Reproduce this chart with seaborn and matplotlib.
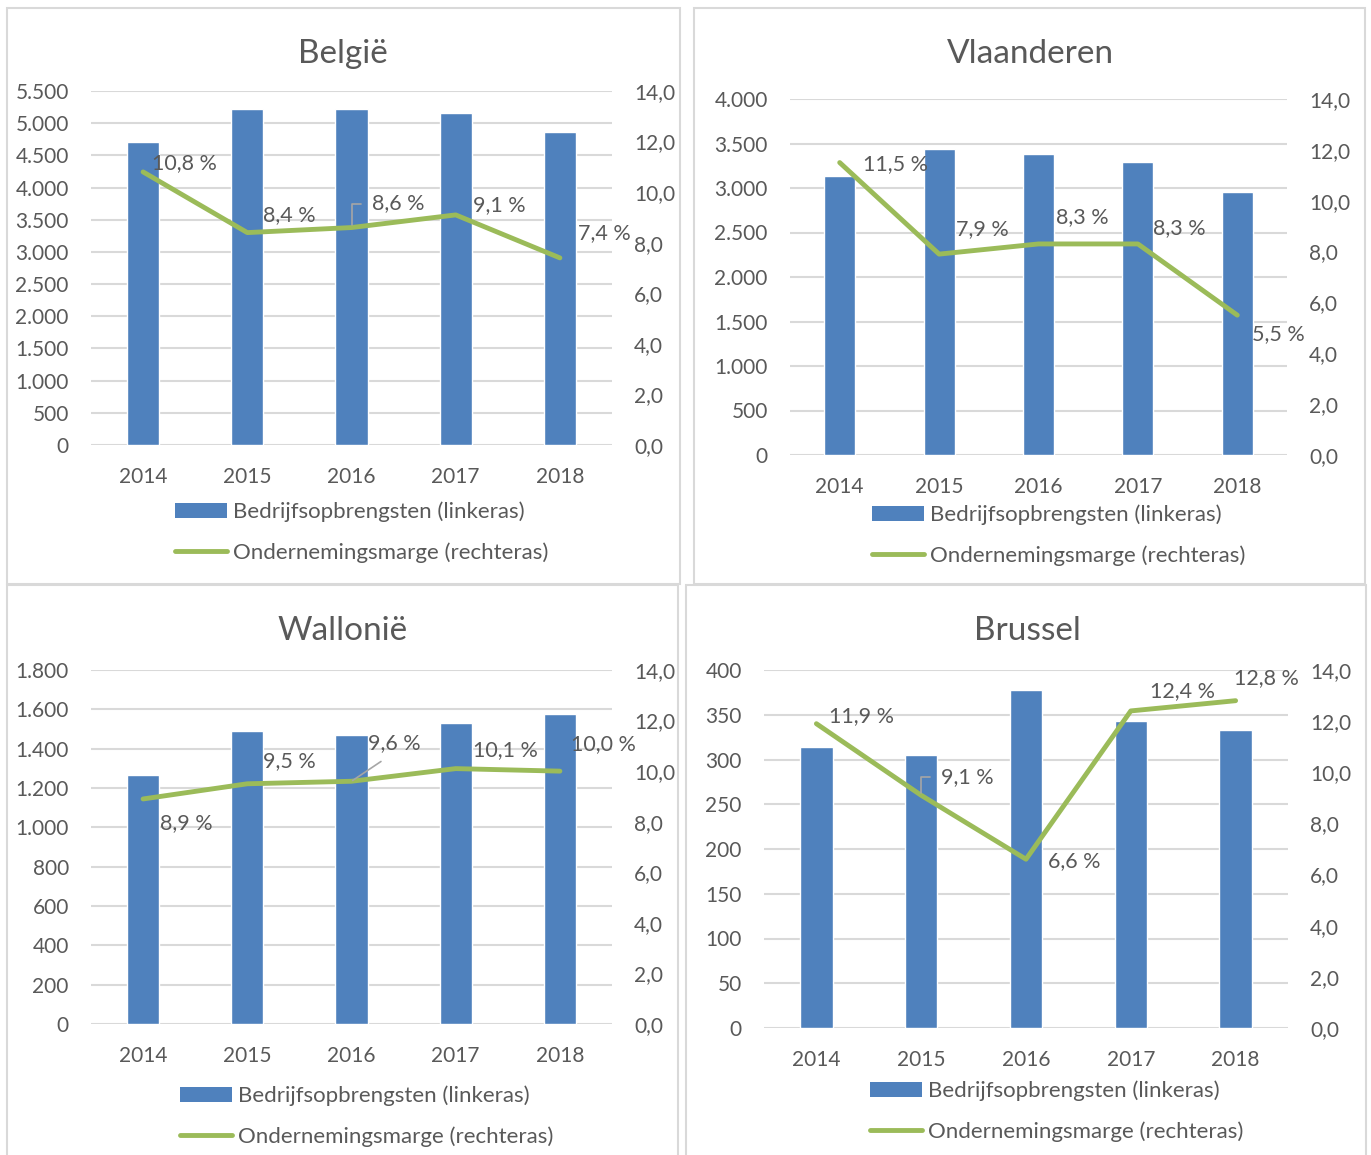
import numpy as np
import pandas as pd
import matplotlib
matplotlib.use("Agg")
import matplotlib.pyplot as plt
from matplotlib.patches import Patch, Rectangle
from matplotlib.lines import Line2D
import seaborn as sns

# ---- data -------------------------------------------------------------
years = ["2014", "2015", "2016", "2017", "2018"]

belgie_omzet = [4700, 5225, 5225, 5160, 4865]
belgie_marge = [10.8, 8.4, 8.6, 9.1, 7.4]

vlaanderen_omzet = [3130, 3435, 3380, 3295, 2960]
vlaanderen_marge = [11.5, 7.9, 8.3, 8.3, 5.5]

wallonie_omzet = [1265, 1488, 1471, 1529, 1577]
wallonie_marge = [8.9, 9.5, 9.6, 10.1, 10.0]

brussel_omzet = [314, 305, 378, 343, 333]
brussel_marge = [11.9, 9.1, 6.6, 12.4, 12.8]

titles = ["België", "Vlaanderen", "Wallonië", "Brussel"]
left_max = [5500, 4000, 1800, 400]
left_step = [500, 500, 200, 50]
right_ticks = [0, 2, 4, 6, 8, 10, 12, 14]

bar_label = "Bedrijfsopbrengsten (linkeras)"
line_label = "Ondernemingsmarge (rechteras)"

# ---- style ------------------------------------------------------------
BLUE = "#4F81BD"
GREEN = "#9BBB59"
TEXT = "#595959"
GRID = "#D9D9D9"
LEADER = "#A6A6A6"

sns.set_theme(style="white")
plt.rcParams["font.family"] = ["Lato", "DejaVu Sans"]
plt.rcParams["text.color"] = TEXT

W, H = 1371, 1155
fig = plt.figure(figsize=(W / 100, H / 100), dpi=100)
fig.patch.set_facecolor("white")


def fx(x):
    return x / W


def fy(y):
    return 1 - y / H


PX = 0.72  # points per pixel at 100 dpi

# panel geometry in pixels
panels = [
    dict(omzet=belgie_omzet, marge=belgie_marge,
         frame=(7, 8, 680, 584), plot=(91, 612, 91, 445),
         title=(343, 54), legend=(175, 532),
         offsets=[(9, 9), (15.5, 18), (20.6, 24), (17, 10), (17.6, 24.6)],
         leader={2: "angle"}, boundary_ticks=True),
    dict(omzet=vlaanderen_omzet, marge=vlaanderen_marge,
         frame=(694, 8, 1365, 584), plot=(790, 1287, 99, 455),
         title=(1030, 54), legend=(872, 535),
         offsets=[(23, -2), (17, 25), (17.5, 27), (15.5, 16), (15, -18.5)],
         leader={}, boundary_ticks=False),
    dict(omzet=wallonie_omzet, marge=wallonie_marge,
         frame=(7, 585, 678, 1170), plot=(91, 612, 670, 1024),
         title=(343, 631), legend=(180, 1116),
         offsets=[(17, -24), (16, 23), (16, 37.7), (17.7, 18.6), (11, 27.5)],
         leader={2: "straight"}, boundary_ticks=False),
    dict(omzet=brussel_omzet, marge=brussel_marge,
         frame=(686, 585, 1366, 1170), plot=(764, 1288, 670, 1028),
         title=(1027, 631), legend=(870, 1111),
         offsets=[(12.4, 8), (20, 18), (22, -2), (19.7, 19.6), (-2, 23)],
         leader={1: "angle"}, boundary_ticks=False),
]

FS = 15
LEG_FS = 16
LINE_W = 3.5

for i, p in enumerate(panels):
    # panel frame
    x0, y0, x1, y1 = p["frame"]
    fig.add_artist(Rectangle((fx(x0), fy(y1)), fx(x1 - x0), (y1 - y0) / H,
                             transform=fig.transFigure, fill=False,
                             edgecolor=GRID, linewidth=1.5, zorder=0))

    px0, px1, pyt, pyb = p["plot"]
    ax = fig.add_axes([fx(px0), fy(pyb), fx(px1 - px0), (pyb - pyt) / H])

    df = pd.DataFrame({"jaar": years, "omzet": p["omzet"], "marge": p["marge"]})

    sns.barplot(data=df, x="jaar", y="omzet", ax=ax, color=BLUE,
                saturation=1, width=0.31, zorder=2)
    ax.set_xlim(-0.5, 4.5)
    ax.set_ylim(0, left_max[i])
    lticks = np.arange(0, left_max[i] + 1, left_step[i])
    ax.set_yticks(lticks)
    ax.set_yticklabels([f"{v:,.0f}".replace(",", ".") for v in lticks])
    ax.yaxis.grid(True, color=GRID, linewidth=1.5)
    ax.set_axisbelow(True)
    for s in ax.spines.values():
        s.set_visible(False)
    ax.set_xlabel("")
    ax.set_ylabel("")
    ax.tick_params(axis="y", length=0, pad=16, labelsize=FS, labelcolor=TEXT)
    ax.tick_params(axis="x", length=0, pad=15.5, labelsize=FS, labelcolor=TEXT)
    if p["boundary_ticks"]:
        ax.set_xticks(np.arange(-0.5, 5, 1), minor=True)
        ax.tick_params(axis="x", which="minor", length=6, width=1.3,
                       color=GRID, direction="out")

    ax2 = ax.twinx()
    sns.lineplot(x=np.arange(len(years)), y=p["marge"], ax=ax2, color=GREEN,
                 linewidth=LINE_W, solid_capstyle="round",
                 solid_joinstyle="round")
    ax2.set_xlim(-0.5, 4.5)
    ax2.set_ylim(0, 14)
    ax2.set_yticks(right_ticks)
    ax2.set_yticklabels([f"{v:.1f}".replace(".", ",") for v in right_ticks])
    ax2.tick_params(axis="y", length=0, pad=16, labelsize=FS, labelcolor=TEXT)
    ax2.grid(False)
    for s in ax2.spines.values():
        s.set_visible(False)
    ax2.set_ylabel("")

    # value labels on the margin line
    for j, v in enumerate(p["marge"]):
        dx, dy = p["offsets"][j]
        txt = f"{v:.1f} %".replace(".", ",")
        kind = p["leader"].get(j)
        if kind == "angle":
            arrow = dict(arrowstyle="-", color=LEADER, lw=1.2,
                         connectionstyle="angle,angleA=0,angleB=90,rad=0",
                         relpos=(0, 0.5), shrinkA=5.5, shrinkB=2)
        elif kind == "straight":
            arrow = dict(arrowstyle="-", color=LEADER, lw=1.2,
                         connectionstyle="arc3", relpos=(0.48, 0),
                         shrinkA=6, shrinkB=1)
        else:
            arrow = None
        ax2.annotate(txt, xy=(j, v), xytext=(dx * PX, dy * PX),
                     textcoords="offset points", ha="left", va="center",
                     fontsize=15.5, color=TEXT, arrowprops=arrow, zorder=5)

    # title
    tx, ty = p["title"]
    fig.text(fx(tx), fy(ty), titles[i], ha="center", va="center",
             fontsize=24, color=TEXT)

    # legend
    lx, ly = p["legend"]
    handles = [Patch(facecolor=BLUE, edgecolor="none", label=bar_label),
               Line2D([0], [0], color=GREEN, linewidth=LINE_W, label=line_label)]
    fig.legend(handles=handles, loc="center left",
               bbox_to_anchor=(fx(lx), fy(ly)), bbox_transform=fig.transFigure,
               frameon=False, fontsize=LEG_FS, labelcolor=TEXT,
               handlelength=2.35, handleheight=0.65, handletextpad=0.28,
               labelspacing=0.9, borderpad=0, borderaxespad=0)

fig.savefig("out.png", dpi=100, facecolor="white")
